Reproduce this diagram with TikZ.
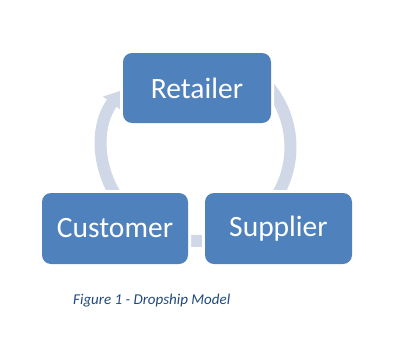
\documentclass[tikz,border=0pt]{standalone}
\usepackage{fontspec}
\setmainfont{Carlito}
\usetikzlibrary{arrows.meta,calc}
\definecolor{boxblue}{HTML}{4F81BD}
\definecolor{bandblue}{HTML}{D0D8E8}
\definecolor{capblue}{HTML}{1F497D}
\begin{document}
\begin{tikzpicture}[x=1pt,y=-1pt,
  stagebox/.style={rectangle, rounded corners=9pt, fill=boxblue, text=white,
    font=\fontsize{29.5}{35}\selectfont, minimum width=147pt, minimum height=71pt,
    inner sep=0pt, preaction={draw=white, line width=6pt}},
  cycleband/.style={draw=bandblue, line width=12pt, -{Triangle[width=21pt,length=16pt]}},
  captiontext/.style={font=\fontsize{15}{18}\selectfont\itshape, text=capblue, inner sep=0pt, anchor=base west}
]
\useasboundingbox (0,0) rectangle (394,359);
\coordinate (c) at (196.5,147);
\coordinate (s) at ($(c)+(-50:94)$);
\draw[cycleband] (s) arc[start angle=-50, end angle=217, radius=94];
\node[stagebox, minimum width=148pt, minimum height=70pt] (retailer) at (197,88) {Retailer};
\node[stagebox, minimum width=146pt] (customer) at (115,228.5) {Customer};
\node[stagebox] (supplier) at (278.5,228.5) {Supplier};
\node[captiontext] (caption) at (73,304) {Figure 1 - Dropship Model};
\end{tikzpicture}
\end{document}
